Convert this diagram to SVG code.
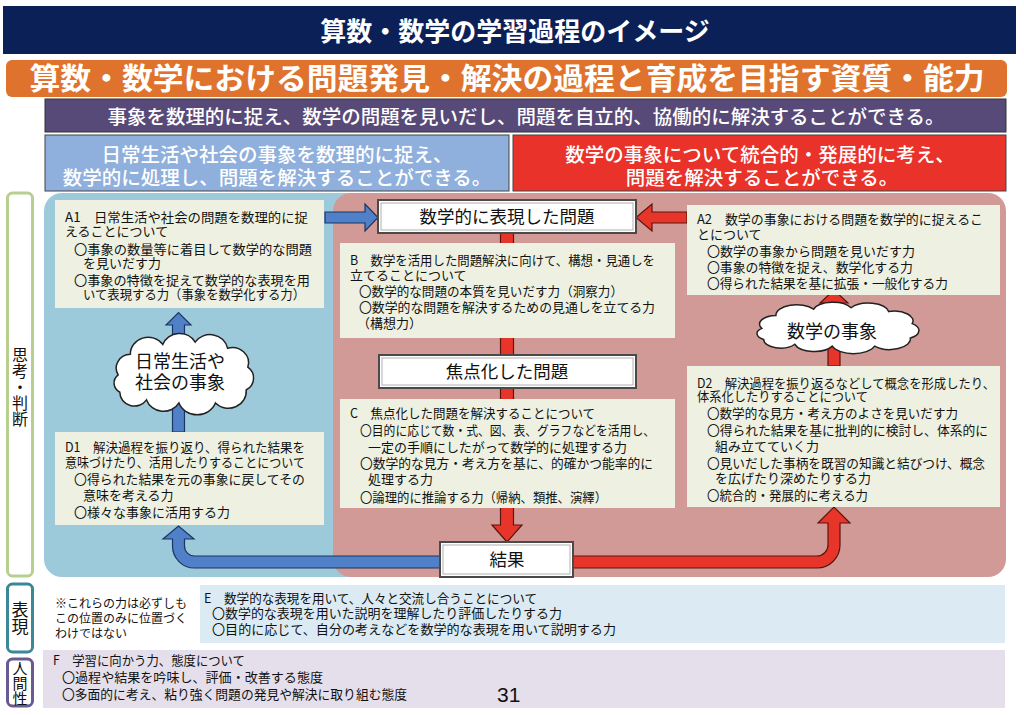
<svg xmlns="http://www.w3.org/2000/svg" xmlns:xlink="http://www.w3.org/1999/xlink" width="1024" height="715" viewBox="0 0 1024 715">
<style>
.t{font-family:"Noto Sans CJK JP","Noto Sans CJK SC",sans-serif;font-size:13px;fill:#111}
.w{font-family:"Noto Sans CJK JP","Noto Sans CJK SC",sans-serif;fill:#fff}
.c{text-anchor:middle}
.v{writing-mode:vertical-rl;text-anchor:middle}
.pale{fill:#eef1e1}
.wbox{fill:#fff;stroke:#4a4a4a;stroke-width:2}
.wbox2{fill:none;stroke:#b0b0b0;stroke-width:1}
.ba{fill:#4f80c8;stroke:#1d3563;stroke-width:1.2}
.ra{fill:#e8352a;stroke:#5a1510;stroke-width:1.2}
.cl{fill:#fff;stroke:#222;stroke-width:1.5;vector-effect:non-scaling-stroke}
.lbl{fill:#fff;stroke-width:3}
.big{font-size:17.5px}
.cloudt{font-size:18px}
</style>
<defs>
<path id="cloud" class="cl" d="M20,55 A18,18 0 0 1 35,28 A22,22 0 0 1 75,15 A22,22 0 0 1 115,12 A22,22 0 0 1 155,20 A20,20 0 0 1 180,45 A18,18 0 0 1 178,75 A22,22 0 0 1 140,92 A24,24 0 0 1 95,92 A22,22 0 0 1 55,88 A18,18 0 0 1 22,78 A14,14 0 0 1 20,55 Z"/>
</defs>
<rect width="1024" height="715" fill="#fff"/>

<g id="header">
<rect x="3" y="6" width="1013" height="48" fill="#0c2058"/>
<text class="w c" x="515" y="41" font-size="26" font-weight="bold">算数・数学の学習過程のイメージ</text>
</g>
<g id="orange-bar">
<rect x="6" y="60" width="1001" height="37" rx="6" fill="#df732d"/>
<text class="w c" x="507" y="89" font-size="30" font-weight="bold" textLength="955" lengthAdjust="spacingAndGlyphs">算数・数学における問題発見・解決の過程と育成を目指す資質・能力</text>
</g>
<g id="purple-bar">
<rect x="45" y="99" width="961" height="33" fill="#584a78" stroke="#333" stroke-width="1"/>
<text class="w c" x="526" y="124" font-size="19" font-weight="500" textLength="837" lengthAdjust="spacingAndGlyphs">事象を数理的に捉え、数学の問題を見いだし、問題を自立的、協働的に解決することができる。</text>
</g>
<g id="blue-goal">
<rect x="45" y="135" width="464" height="56" fill="#8fafdc" stroke="#444" stroke-width="1"/>
<text class="w c" font-size="19.5" font-weight="500"><tspan x="277" y="162">日常生活や社会の事象を数理的に捉え、</tspan><tspan x="277" y="185">数学的に処理し、問題を解決することができる。</tspan></text>
</g>
<g id="red-goal">
<rect x="513" y="135" width="493" height="56" fill="#e8322a" stroke="#444" stroke-width="1"/>
<text class="w c" font-size="19.5" font-weight="500"><tspan x="760" y="162">数学の事象について統合的・発展的に考え、</tspan><tspan x="762" y="185">問題を解決することができる。</tspan></text>
</g>

<g id="label-shikou">
<rect class="lbl" x="7.5" y="193" width="25" height="383" rx="5" stroke="#b8d08f"/>
<text class="t v" x="20" y="387" style="font-size:16px">思考・判断</text>
</g>
<g id="label-hyogen">
<rect class="lbl" x="7.5" y="584" width="25" height="68" rx="5" stroke="#3b8697"/>
<text class="t v" x="20" y="618" style="font-size:17px">表現</text>
</g>
<g id="label-ningensei">
<rect class="lbl" x="7.5" y="659" width="25" height="47" rx="5" stroke="#6a5a92"/>
<text class="t v" x="20" y="683" style="font-size:15px">人間性</text>
</g>

<g id="regions">
<rect x="44" y="193" width="320" height="384" rx="18" fill="#9dcadb"/>
<rect x="333" y="193" width="673" height="384" rx="18" fill="#d19a97"/>
</g>

<g id="connectors">
<path class="ra" d="M500.5,233 L513.5,233 L513.5,525 L522,525 L507,542 L492,525 L500.5,525 Z"/>
<path class="ba" d="M172.5,432 L172.5,325 L166,325 L178.5,312.5 L191,325 L184.5,325 L184.5,432 Z"/>
<path class="ra" d="M828,366 L828,303 L820,303 L834,290 L848,303 L840,303 L840,366 Z"/>
<path class="ba" d="M325,212 L365,212 L365,204 L378,217.5 L365,231 L365,223 L325,223 Z"/>
<path class="ra" d="M687,212 L652,212 L652,204 L636,217.5 L652,231 L652,223 L687,223 Z"/>
<path class="ba" d="M441,568 L194.5,568 A22,22 0 0 1 172.5,546 L172.5,539 L163,539 L178.5,526 L194,539 L184.5,539 L184.5,546 A10,10 0 0 0 194.5,556 L441,556 Z"/>
<path class="ra" d="M572,556 L817,556 A11,11 0 0 0 828,545 L828,523 L818,523 L834,507 L850,523 L840,523 L840,545 A23,23 0 0 1 817,568 L572,568 Z"/>
</g>

<g id="A1">
<rect class="pale" x="55" y="200" width="269" height="108"/>
<text class="t"><tspan x="65" y="222" textLength="243" lengthAdjust="spacingAndGlyphs">A1　日常生活や社会の問題を数理的に捉</tspan><tspan x="65" y="236">えることについて</tspan><tspan x="74" y="254" textLength="238" lengthAdjust="spacingAndGlyphs">〇事象の数量等に着目して数学的な問題</tspan><tspan x="83" y="268">を見いだす力</tspan><tspan x="74" y="285" textLength="236" lengthAdjust="spacingAndGlyphs">〇事象の特徴を捉えて数学的な表現を用</tspan><tspan x="83" y="299" textLength="222" lengthAdjust="spacingAndGlyphs">いて表現する力（事象を数学化する力）</tspan></text>
</g>

<g id="cloud-daily">
<use xlink:href="#cloud" transform="translate(102,333) scale(0.81,0.76)"/>
<text class="t c cloudt"><tspan x="180" y="368">日常生活や</tspan><tspan x="180" y="389">社会の事象</tspan></text>
</g>

<g id="D1">
<rect class="pale" x="55" y="432" width="269" height="93"/>
<text class="t"><tspan x="65" y="452" textLength="240" lengthAdjust="spacingAndGlyphs">D1　解決過程を振り返り、得られた結果を</tspan><tspan x="65" y="467" textLength="240" lengthAdjust="spacingAndGlyphs">意味づけたり、活用したりすることについて</tspan><tspan x="74" y="484" textLength="231" lengthAdjust="spacingAndGlyphs">〇得られた結果を元の事象に戻してその</tspan><tspan x="83" y="500">意味を考える力</tspan><tspan x="74" y="517">〇様々な事象に活用する力</tspan></text>
</g>

<g id="box-expressed">
<rect class="wbox" x="378" y="200" width="258" height="33"/>
<rect class="wbox2" x="381" y="203" width="252" height="27"/>
<text class="t c big" x="507" y="223">数学的に表現した問題</text>
</g>

<g id="B">
<rect class="pale" x="340" y="243" width="335" height="95"/>
<text class="t"><tspan x="350" y="265" textLength="305" lengthAdjust="spacingAndGlyphs">B　数学を活用した問題解決に向けて、構想・見通しを</tspan><tspan x="350" y="280">立てることについて</tspan><tspan x="359" y="296" textLength="264" lengthAdjust="spacingAndGlyphs">〇数学的な問題の本質を見いだす力（洞察力）</tspan><tspan x="359" y="312" textLength="296" lengthAdjust="spacingAndGlyphs">〇数学的な問題を解決するための見通しを立てる力</tspan><tspan x="357" y="328">（構想力）</tspan></text>
</g>

<g id="box-focused">
<rect class="wbox" x="379" y="355" width="257" height="33"/>
<rect class="wbox2" x="382" y="358" width="251" height="27"/>
<text class="t c big" x="507" y="378">焦点化した問題</text>
</g>

<g id="C">
<rect class="pale" x="340" y="399" width="335" height="109"/>
<text class="t"><tspan x="350" y="418" textLength="245" lengthAdjust="spacingAndGlyphs">C　焦点化した問題を解決することについて</tspan><tspan x="360" y="435" textLength="295" lengthAdjust="spacingAndGlyphs">〇目的に応じて数・式、図、表、グラフなどを活用し、</tspan><tspan x="368" y="452" textLength="259" lengthAdjust="spacingAndGlyphs">一定の手順にしたがって数学的に処理する力</tspan><tspan x="360" y="468" textLength="293" lengthAdjust="spacingAndGlyphs">〇数学的な見方・考え方を基に、的確かつ能率的に</tspan><tspan x="368" y="484">処理する力</tspan><tspan x="360" y="502" textLength="247" lengthAdjust="spacingAndGlyphs">〇論理的に推論する力（帰納、類推、演繹）</tspan></text>
</g>

<g id="box-result">
<rect class="wbox" x="440" y="542" width="133" height="35"/>
<rect class="wbox2" x="443" y="545" width="127" height="29"/>
<text class="t c big" x="507" y="566">結果</text>
</g>

<g id="A2">
<rect class="pale" x="687" y="205" width="313" height="90"/>
<text class="t"><tspan x="697" y="224" textLength="286" lengthAdjust="spacingAndGlyphs">A2　数学の事象における問題を数学的に捉えるこ</tspan><tspan x="697" y="239">とについて</tspan><tspan x="707" y="256">〇数学の事象から問題を見いだす力</tspan><tspan x="707" y="272" textLength="206" lengthAdjust="spacingAndGlyphs">〇事象の特徴を捉え、数学化する力</tspan><tspan x="707" y="288" textLength="241" lengthAdjust="spacingAndGlyphs">〇得られた結果を基に拡張・一般化する力</tspan></text>
</g>

<g id="cloud-math">
<use xlink:href="#cloud" transform="translate(743,302) scale(0.94,0.48)"/>
<text class="t c cloudt" x="832" y="338">数学の事象</text>
</g>

<g id="D2">
<rect class="pale" x="687" y="366" width="313" height="141"/>
<text class="t"><tspan x="697" y="388" textLength="298" lengthAdjust="spacingAndGlyphs">D2　解決過程を振り返るなどして概念を形成したり、</tspan><tspan x="697" y="401" textLength="171" lengthAdjust="spacingAndGlyphs">体系化したりすることについて</tspan><tspan x="707" y="418" textLength="251" lengthAdjust="spacingAndGlyphs">〇数学的な見方・考え方のよさを見いだす力</tspan><tspan x="707" y="435" textLength="281" lengthAdjust="spacingAndGlyphs">〇得られた結果を基に批判的に検討し、体系的に</tspan><tspan x="715" y="451">組み立てていく力</tspan><tspan x="707" y="468" textLength="278" lengthAdjust="spacingAndGlyphs">〇見いだした事柄を既習の知識と結びつけ、概念</tspan><tspan x="715" y="483">を広げたり深めたりする力</tspan><tspan x="707" y="500" textLength="161" lengthAdjust="spacingAndGlyphs">〇統合的・発展的に考える力</tspan></text>
</g>

<g id="note">
<text class="t" style="font-size:12px"><tspan x="55" y="608">※これらの力は必ずしも</tspan><tspan x="55" y="623">この位置のみに位置づく</tspan><tspan x="55" y="638">わけではない</tspan></text>
</g>

<g id="E">
<rect x="200" y="585" width="805" height="58" fill="#dcebf3"/>
<text class="t"><tspan x="204" y="603" textLength="333" lengthAdjust="spacingAndGlyphs">E　数学的な表現を用いて、人々と交流し合うことについて</tspan><tspan x="212" y="618" textLength="350" lengthAdjust="spacingAndGlyphs">〇数学的な表現を用いた説明を理解したり評価したりする力</tspan><tspan x="212" y="634" textLength="404" lengthAdjust="spacingAndGlyphs">〇目的に応じて、自分の考えなどを数学的な表現を用いて説明する力</tspan></text>
</g>

<g id="F">
<rect x="43" y="650" width="962" height="58" fill="#e4dfeb"/>
<text class="t"><tspan x="53" y="665" textLength="192" lengthAdjust="spacingAndGlyphs">F　学習に向かう力、態度について</tspan><tspan x="62" y="682" textLength="261" lengthAdjust="spacingAndGlyphs">〇過程や結果を吟味し、評価・改善する態度</tspan><tspan x="62" y="699" textLength="345" lengthAdjust="spacingAndGlyphs">〇多面的に考え、粘り強く問題の発見や解決に取り組む態度</tspan></text>
<text x="497" y="702" font-family="Liberation Sans, Arial, sans-serif" font-size="21" fill="#111">31</text>
</g>
</svg>
